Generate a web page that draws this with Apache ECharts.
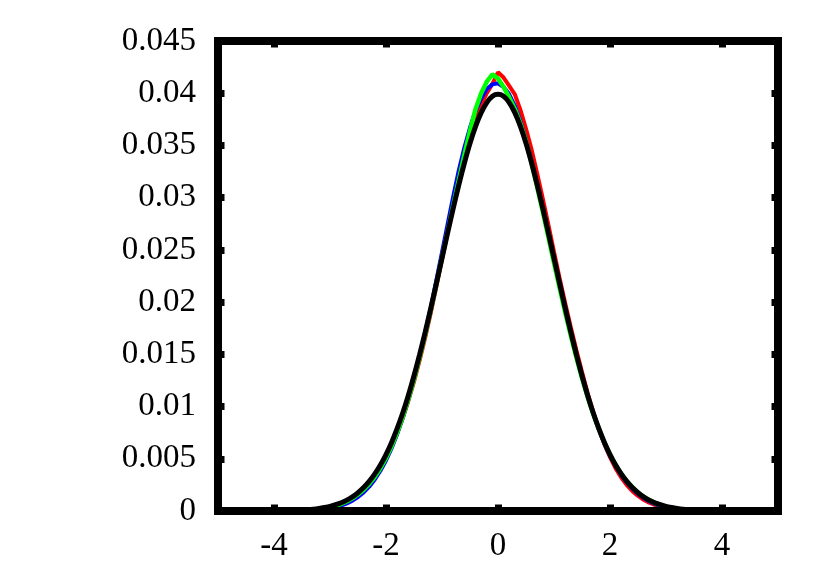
<!DOCTYPE html>
<html>
<head>
<meta charset="utf-8">
<script src="https://cdn.jsdelivr.net/npm/echarts@6/dist/echarts.min.js"></script>
<style>html,body{margin:0;padding:0;background:#fff}#c{width:830px;height:581px}</style>
</head>
<body>
<div id="c"></div>
<script>
var xs = [-3.6,-3.5,-3.4,-3.3,-3.2,-3.1,-3.0,-2.9,-2.8,-2.7,-2.6,-2.5,-2.4,-2.3,-2.2,-2.1,-2.0,-1.9,-1.8,-1.7,-1.6,-1.5,-1.4,-1.3,-1.2,-1.1,-1.0,-0.9,-0.8,-0.7,-0.6,-0.5,-0.4,-0.3,-0.2,-0.1,
  0,0.1,0.2,0.3,0.4,0.5,0.6,0.7,0.8,0.9,1.0,1.1,1.2,1.3,1.4,1.5,1.6,1.7,1.8,1.9,2.0,2.1,2.2,2.3,2.4,2.5,2.6,2.7,2.8,2.9,3.0,3.1,3.2,3.3,3.4,3.5,3.6];

var redVals = [0.00003,0.00005,0.00008,0.00012,0.00018,0.00026,0.00037,0.00051,0.00069,0.00093,0.00123,0.00160,0.00206,0.00262,0.00330,0.00410,0.00505,0.00616,0.00745,0.00890,0.01055,0.01238,0.01440,0.01660,0.01898,0.02150,0.02410,0.02670,0.02920,0.03160,0.03380,0.03580,0.03750,0.03890,0.04000,0.04090,
  0.04200,0.04150,0.04070,0.03990,0.03840,0.03660,0.03460,0.03230,0.02990,0.02740,0.02480,0.02230,0.01990,0.01760,0.01540,0.01330,0.01130,0.00950,0.00785,0.00640,0.00515,0.00408,0.00320,0.00248,0.00190,0.00144,0.00108,0.00080,0.00058,0.00042,0.00030,0.00021,0.00014,0.00009,0.00006,0.00004,0.00002];

var blueVals = [0.00001,0.00002,0.00004,0.00008,0.00012,0.00018,0.00026,0.00037,0.00052,0.00072,0.00099,0.00134,0.00178,0.00233,0.00302,0.00385,0.00484,0.00601,0.00738,0.00895,0.01070,0.01265,0.01478,0.01705,0.01950,0.02210,0.02475,0.02745,0.03010,0.03260,0.03480,0.03670,0.03830,0.03950,0.04040,0.04085,
  0.04095,0.04060,0.03990,0.03880,0.03730,0.03550,0.03350,0.03130,0.02900,0.02660,0.02420,0.02180,0.01940,0.01710,0.01490,0.01290,0.01100,0.00930,0.00780,0.00645,0.00530,0.00430,0.00345,0.00273,0.00213,0.00164,0.00125,0.00093,0.00068,0.00049,0.00034,0.00023,0.00015,0.00009,0.00005,0.00003,0.00001];

var greenVals = [0.00003,0.00005,0.00008,0.00012,0.00018,0.00026,0.00036,0.00050,0.00068,0.00091,0.00121,0.00158,0.00204,0.00260,0.00328,0.00410,0.00506,0.00620,0.00752,0.00903,0.01073,0.01262,0.01470,0.01693,0.01930,0.02176,0.02425,0.02675,0.02925,0.03170,0.03410,0.03640,0.03850,0.04000,0.04110,0.04180,
  0.04140,0.04060,0.03960,0.03850,0.03710,0.03540,0.03330,0.03100,0.02865,0.02620,0.02375,0.02135,0.01900,0.01678,0.01468,0.01272,0.01092,0.00930,0.00785,0.00655,0.00541,0.00442,0.00357,0.00285,0.00225,0.00176,0.00136,0.00104,0.00078,0.00058,0.00042,0.00030,0.00021,0.00014,0.00009,0.00006,0.00004];

var blackVals = [0.00006,0.00009,0.00012,0.00017,0.00024,0.00033,0.00044,0.00060,0.00079,0.00104,0.00136,0.00175,0.00224,0.00283,0.00355,0.00440,0.00540,0.00656,0.00790,0.00940,0.01109,0.01295,0.01497,0.01714,0.01942,0.02179,0.02420,0.02661,0.02897,0.03123,0.03332,0.03521,0.03683,0.03814,0.03910,0.03970,
  0.03989,0.03970,0.03910,0.03814,0.03683,0.03521,0.03332,0.03123,0.02897,0.02661,0.02420,0.02179,0.01942,0.01714,0.01497,0.01295,0.01109,0.00940,0.00790,0.00656,0.00540,0.00440,0.00355,0.00283,0.00224,0.00175,0.00136,0.00104,0.00079,0.00060,0.00044,0.00033,0.00024,0.00017,0.00012,0.00009,0.00006];

var xTicks = [-4, -2, 0, 2, 4];

function pairs(v){ return xs.map(function(x,i){ return [x, v[i]]; }); }

var FONT = 'Liberation Serif';
var axisLineStyle = { color: '#000', width: 8, cap: 'square' };
function xAx(pos, showLabel){
  return {
    type: 'value', position: pos, min: -5, max: 5, z: 5,
    axisLine: { show: true, onZero: false, lineStyle: axisLineStyle },
    axisTick: { show: true, inside: true, length: 6.5, customValues: xTicks, lineStyle: { color: '#000', width: 7 } },
    axisLabel: { show: showLabel, customValues: xTicks, color: '#000', fontFamily: FONT, fontSize: 33, margin: 19 },
    splitLine: { show: false }
  };
}
function yAx(pos, showLabel){
  return {
    type: 'value', position: pos, min: 0, max: 0.045, interval: 0.005, z: 5,
    axisLine: { show: true, onZero: false, lineStyle: axisLineStyle },
    axisTick: { show: true, inside: true, length: 6.5, lineStyle: { color: '#000', width: 7 } },
    axisLabel: { show: showLabel, color: '#000', fontFamily: FONT, fontSize: 33, margin: 22 },
    splitLine: { show: false }
  };
}

var chart = echarts.init(document.getElementById('c'), null, { renderer: 'canvas' });
chart.setOption({
  animation: false,
  backgroundColor: '#fff',
  grid: { left: 218, top: 41, width: 560, height: 470, show: false },
  xAxis: [xAx('bottom', true), xAx('top', false)],
  yAxis: [yAx('left', true), yAx('right', false)],
  series: [
    { type: 'line', data: pairs(redVals), showSymbol: false, lineStyle: { color: '#ff0000', width: 4 }, z: 2 },
    { type: 'line', data: pairs(blueVals), showSymbol: false, lineStyle: { color: '#0000ff', width: 4 }, z: 2 },
    { type: 'line', data: pairs(greenVals), showSymbol: false, lineStyle: { color: '#00ff00', width: 4.5 }, z: 2 },
    { type: 'line', data: pairs(blackVals), showSymbol: false, smooth: 0.3, lineStyle: { color: '#000000', width: 5 }, z: 3 }
  ]
});
</script>
</body>
</html>
